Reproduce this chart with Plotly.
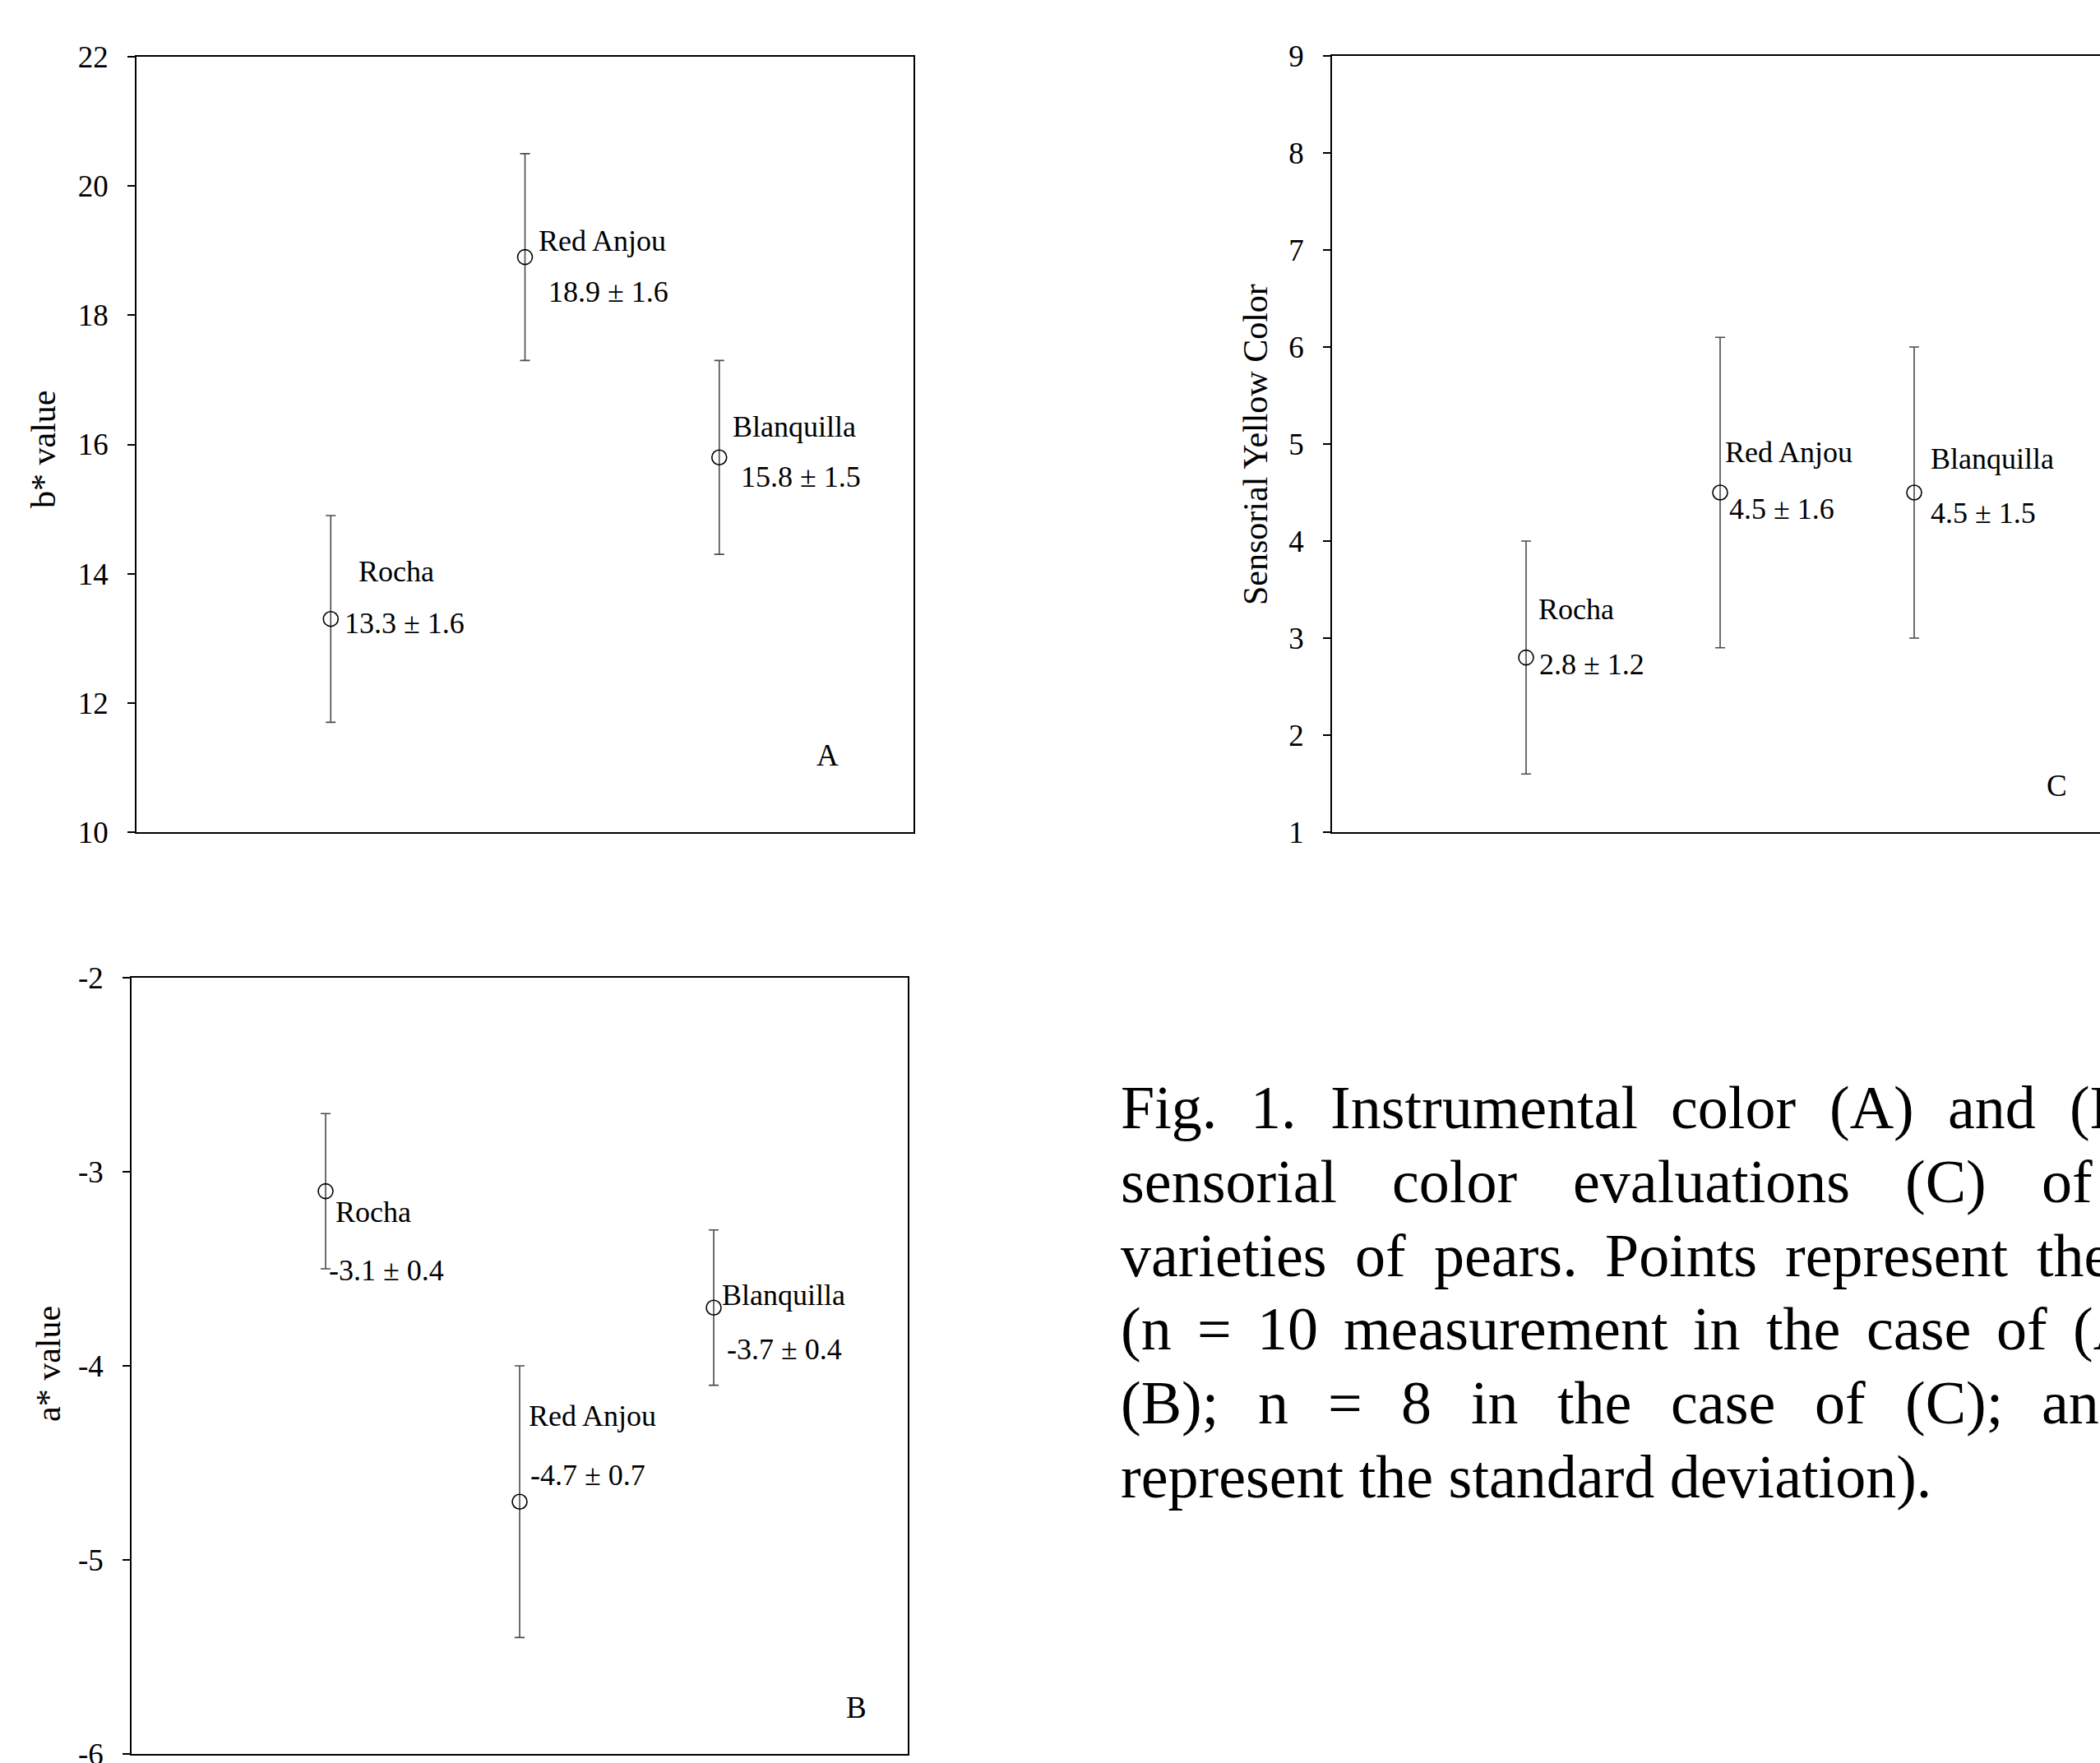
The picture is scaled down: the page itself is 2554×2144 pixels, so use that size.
import plotly.graph_objects as go

# ---- data -------------------------------------------------------------
varieties = ["Rocha", "Red Anjou", "Blanquilla"]
positions = [1, 2, 3]

b_mean = [13.3, 18.9, 15.8]        # instrumental b*
b_sd = [1.6, 1.6, 1.5]
a_mean = [-3.1, -4.7, -3.7]        # instrumental a*
a_sd = [0.4, 0.7, 0.4]
yellow_mean = [2.8, 4.5, 4.5]      # sensorial yellow colour score
yellow_sd = [1.2, 1.6, 1.5]

b_ticks = [10, 12, 14, 16, 18, 20, 22]
a_ticks = [-6, -5, -4, -3, -2]
yellow_ticks = [1, 2, 3, 4, 5, 6, 7, 8, 9]

# ---- page geometry ----------------------------------------------------
W, H = 2554, 2144
FONT = "Liberation Serif, Times New Roman, serif"


def fx(px):
    return px / W


def fy(py):
    return 1 - py / H


UNIT_X = 236.0  # pixels per x unit (each panel spans 0..4)

panels = [
    dict(key="", mean=b_mean, sd=b_sd, yrange=[10, 22], ticks=b_ticks,
         ticktext=[str(t) for t in b_ticks],
         xdom=[166, 1111], ydom=[69, 1012], xrange=[0, 4], right=True,
         title="b* value", title_xy=(53, 547), letter="A", letter_xy=(1007, 918),
         name_off=[(32, 58), (14, 20), (14, 37)],
         val_off=[(15, -5), (26, -42), (24, -24)]),
    dict(key="2", mean=a_mean, sd=a_sd, yrange=[-6, -2], ticks=a_ticks,
         ticktext=[str(t) for t in a_ticks],
         xdom=[160, 1104], ydom=[1189, 2133], xrange=[0, 4], right=True,
         title="a* value", title_xy=(59, 1659), letter="B", letter_xy=(1041, 2076),
         name_off=[(10, -25), (9, 104), (8, 15)],
         val_off=[(2, -96), (11, 32), (14, -51)]),
    dict(key="3", mean=yellow_mean, sd=yellow_sd, yrange=[1, 9], ticks=yellow_ticks,
         ticktext=[str(t) for t in yellow_ticks],
         xdom=[1620, W], ydom=[68, 1012], xrange=[0, (W - 1620) / UNIT_X], right=False,
         title="Sensorial Yellow Color", title_xy=(1527, 541), letter="C",
         letter_xy=(2501, 955),
         name_off=[(13, 59), (4, 49), (18, 41)],
         val_off=[(14, -8), (9, -20), (18, -25)]),
]

fig = go.Figure()
annotations = []
layout_axes = {}

for p in panels:
    k = p["key"]
    fig.add_trace(go.Scatter(
        x=positions, y=p["mean"], mode="markers",
        xaxis="x" + k, yaxis="y" + k,
        marker=dict(symbol="circle-open", size=18, color="black",
                    line=dict(width=1.6, color="black")),
        error_y=dict(type="data", array=p["sd"], visible=True,
                     color="#4a4a4a", thickness=1.6, width=6),
        showlegend=False, hoverinfo="skip",
    ))

    layout_axes["xaxis" + k] = dict(
        domain=[fx(p["xdom"][0]), fx(p["xdom"][1])], range=p["xrange"],
        anchor="y" + k, showgrid=False, zeroline=False, showticklabels=False,
        ticks="", showline=True, linecolor="black", linewidth=1.6, mirror=True,
        automargin=False, fixedrange=True,
    )
    layout_axes["yaxis" + k] = dict(
        domain=[fy(p["ydom"][1]), fy(p["ydom"][0])], range=p["yrange"],
        anchor="x" + k, showgrid=False, zeroline=False,
        tickmode="array", tickvals=p["ticks"], ticktext=p["ticktext"],
        ticks="outside", ticklen=9, tickwidth=1.6, tickcolor="black",
        ticklabelstandoff=16, ticklabeloverflow="allow",
        tickfont=dict(family=FONT, size=37, color="black"),
        showline=True, linecolor="black", linewidth=1.6,
        mirror=p["right"], automargin=False, fixedrange=True,
    )

    # variety names and "mean ± sd" labels next to each point
    for i, name in enumerate(varieties):
        m, s = p["mean"][i], p["sd"][i]
        for text, (dx, dy) in ((name, p["name_off"][i]),
                               (f"{m} \u00b1 {s}", p["val_off"][i])):
            annotations.append(dict(
                x=positions[i], y=m, xref="x" + k, yref="y" + k,
                text=text, showarrow=False, xanchor="left", yanchor="middle",
                xshift=dx, yshift=dy,
                font=dict(family=FONT, size=36, color="black"),
            ))

    annotations.append(dict(
        x=fx(p["title_xy"][0]), y=fy(p["title_xy"][1]), xref="paper", yref="paper",
        text=p["title"], textangle=-90, showarrow=False,
        xanchor="center", yanchor="middle",
        font=dict(family=FONT, size=42, color="black"),
    ))
    annotations.append(dict(
        x=fx(p["letter_xy"][0]), y=fy(p["letter_xy"][1]), xref="paper", yref="paper",
        text=p["letter"], showarrow=False, xanchor="center", yanchor="middle",
        font=dict(family=FONT, size=37, color="black"),
    ))

# ---- justified figure caption -------------------------------------------
# Times advance widths (1/1000 em) used to lay the words out with the
# stretched word spacing of a justified paragraph.
TIMES_W = {
    " ": 250, "(": 333, ")": 333, ".": 250, ";": 278, "=": 564, "\u00b1": 564,
    "A": 722, "B": 667, "C": 667, "F": 556, "I": 333, "P": 556,
    "a": 444, "b": 500, "c": 444, "d": 500, "e": 444, "f": 333, "g": 500,
    "h": 500, "i": 278, "j": 278, "l": 278, "m": 778, "n": 500, "o": 500,
    "p": 500, "r": 333, "s": 389, "t": 278, "u": 500, "v": 500, "w": 722,
    "y": 500,
}


def text_width(s, size):
    return sum(TIMES_W.get(c, 500) for c in s) / 1000.0 * size


CAP_SIZE = 74
CAP_LEFT = 1362
CAP_TOP_BASELINE = 1372
CAP_LEADING = 89.8
caption_lines = [
    ["Fig.", "1.", "Instrumental", "color", "(A)", "and", "(B)"],
    ["sensorial", "color", "evaluations", "(C)", "of"],
    ["varieties", "of", "pears.", "Points", "represent", "the"],
    ["(n", "=", "10", "measurement", "in", "the", "case", "of", "(A)"],
    ["(B);", "n", "=", "8", "in", "the", "case", "of", "(C);", "and"],
    ["represent the standard deviation)."],
]
caption_gaps = [40.9, 67.4, 34.1, 31.1, 47.7, 0.0]  # word spacing per line, px

for li, words in enumerate(caption_lines):
    baseline = CAP_TOP_BASELINE + li * CAP_LEADING
    xpos = CAP_LEFT
    for word in words:
        annotations.append(dict(
            x=fx(xpos), y=fy(baseline - 0.3375 * CAP_SIZE), xref="paper", yref="paper",
            text=word, showarrow=False, xanchor="left", yanchor="middle",
            borderpad=0,
            font=dict(family=FONT, size=CAP_SIZE, color="black"),
        ))
        xpos += text_width(word, CAP_SIZE) + caption_gaps[li]

fig.update_layout(
    width=W, height=H, margin=dict(l=0, r=0, t=0, b=0, autoexpand=False),
    paper_bgcolor="white", plot_bgcolor="white",
    font=dict(family=FONT, color="black"),
    annotations=annotations,
    **layout_axes,
)

fig.write_html("out.html", config={"displayModeBar": False})
